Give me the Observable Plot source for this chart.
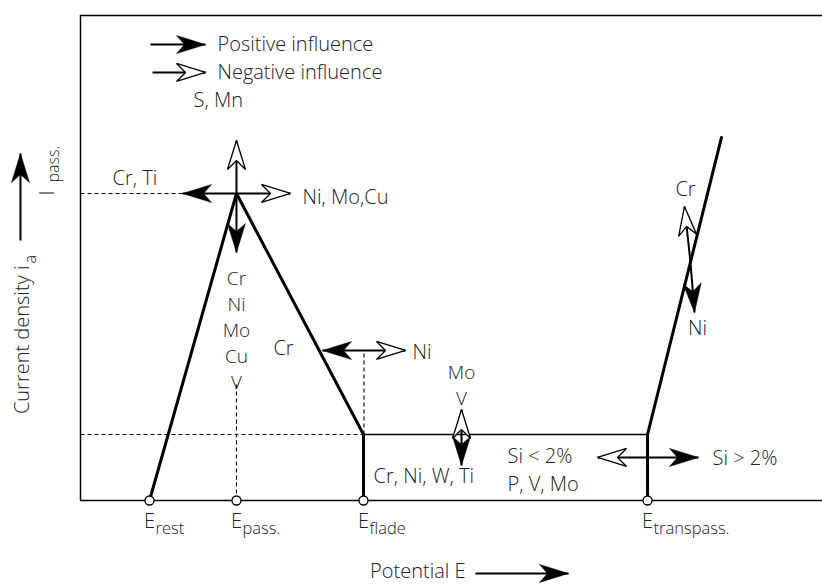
<!DOCTYPE html>
<html><head><meta charset="utf-8">
<script src="https://cdn.jsdelivr.net/npm/d3@7"></script>
<script src="https://cdn.jsdelivr.net/npm/@observablehq/plot@0.6"></script>
<style>body{margin:0;background:#fff;} #chart svg{display:block}</style>
</head><body><div id="chart"></div>
<script>
// ---- Data (relative units: potential 0–100 across the frame, current density 0–100 up the frame)
const potentialNames = ["rest", "pass.", "flade", "transpass."];
const potentialValues = [9.30, 21.02, 38.14, 76.42];

// polarisation curve: active branch + passive drop, then transpassive branch
const curveActiveX = [9.30, 21.02, 38.14, 38.14];
const curveActiveY = [0, 63.30, 13.61, 0];
const curveTransX = [76.42, 76.42, 86.39];
const curveTransY = [0, 13.61, 74.85];

// passive plateau (solid thin)
const plateauX = [38.14, 76.42];
const plateauY = [13.61, 13.61];

// dashed guide lines
const guideX1 = [0, 0, 21.02, 38.20];
const guideY1 = [63.30, 13.61, 0, 13.61];
const guideX2 = [13.75, 38.14, 21.02, 38.20];
const guideY2 = [63.30, 13.61, 24.12, 30.93];

// influence arrows (start -> tip), head: "filled" = positive, "open" = negative
const arrowX1 = [9.43, 9.70, 21.02, 21.02, 21.02, 21.02, 38.20, 38.20, 51.35, 51.35, 76.42, 76.42, 82.21, 82.21, -8.09, 53.23];
const arrowY1 = [94.0, 88.25, 63.30, 63.30, 63.30, 63.30, 30.93, 30.93, 13.61, 13.61, 8.87, 8.87, 49.07, 49.07, 53.61, -15.05];
const arrowX2 = [16.85, 16.85, 13.75, 28.30, 21.02, 21.02, 32.61, 43.80, 51.35, 51.35, 69.68, 83.29, 81.40, 82.75, -8.09, 65.77];
const arrowY2 = [94.0, 88.25, 63.30, 63.30, 74.23, 51.13, 30.93, 30.93, 18.76, 7.22, 8.87, 8.87, 60.62, 38.76, 71.55, -15.05];
const arrowHead = ["filled", "open", "filled", "open", "open", "filled", "filled", "open", "open", "filled", "open", "filled", "open", "filled", "filled", "filled"];

// single-line labels
const labelText = ["Positive influence", "Negative influence", "S, Mn", "Cr, Ti", "Ni, Mo,Cu",
  "Cr", "Ni", "Cr, Ni, W, Ti", "Si > 2%", "Cr", "Ni"];
const labelX = [18.46, 18.46, 15.23, 4.31, 29.92, 27.36, 44.74, 39.49, 85.18, 81.54, 83.15];
const labelY = [94.0, 88.25, 82.47, 66.29, 62.37, 31.34, 30.52, 4.95, 8.66, 64.12, 35.46];
const labelAnchor = ["start", "start", "start", "start", "start", "middle", "start", "start", "start", "middle", "middle"];

// stacked (multi-line) labels
const peakStack = ["Cr", "Ni", "Mo", "Cu", "V"];      // centred under the peak
const peakStackX = 21.02, peakStackY = 35.36;
const fladeStack = ["Mo", "V"];                       // above the plateau arrow
const fladeStackX = 51.35, fladeStackY = 24.02;
const siStack = ["Si < 2%", "P, V, Mo"];              // left of the Si arrow
const siStackX = 57.55, siStackY = 6.60;

const xTitle = "Potential E";
const yTitle = "Current density i";
const yTitleSub = "a";
const iPassLabel = "I";
const iPassSub = "pass.";

// ---- Build tables
const arrows = arrowX1.map((x1, i) => ({x1, y1: arrowY1[i], x2: arrowX2[i], y2: arrowY2[i], head: arrowHead[i]}));
const labels = labelText.map((text, i) => ({text, x: labelX[i], y: labelY[i], anchor: labelAnchor[i]}));
const ticks = potentialNames.map((name, i) => ({name, x: potentialValues[i]}));
const guides = guideX1.map((x1, i) => ({x1, y1: guideY1[i], x2: guideX2[i], y2: guideY2[i]}));
const active = curveActiveX.map((x, i) => ({x, y: curveActiveY[i]}));
const trans = curveTransX.map((x, i) => ({x, y: curveTransY[i]}));
const plateau = plateauX.map((x, i) => ({x, y: plateauY[i]}));

const NS = "http://www.w3.org/2000/svg";
function headMarker(open) {
  return (color, context) => {
    const doc = (context && context.document) || document;
    const m = doc.createElementNS(NS, "marker");
    m.setAttribute("viewBox", "-34 -12 37 24");
    m.setAttribute("markerWidth", "37");
    m.setAttribute("markerHeight", "24");
    m.setAttribute("markerUnits", "userSpaceOnUse");
    m.setAttribute("refX", "0");
    m.setAttribute("refY", "0");
    m.setAttribute("orient", "auto");
    m.setAttribute("overflow", "visible");
    const p = doc.createElementNS(NS, "path");
    if (open) {
      p.setAttribute("d", "M0,0 L-29,-9 L-20,0 L-29,9 Z");
      p.setAttribute("fill", "white");
      p.setAttribute("stroke", color);
      p.setAttribute("stroke-width", "1.3");
    } else {
      p.setAttribute("d", "M0,0 L-29,-9 L-21,0 L-29,9 Z");
      p.setAttribute("fill", color);
      p.setAttribute("stroke", color);
      p.setAttribute("stroke-width", "0.5");
    }
    p.setAttribute("stroke-linejoin", "miter");
    p.setAttribute("stroke-dasharray", "none");
    m.appendChild(p);
    return m;
  };
}

const FONT = "'Open Sans', 'DejaVu Sans', sans-serif";
const TXT = "#222";
const W = 300;
const FS = 20;

const chart = Plot.plot({
  width: 822,
  height: 584,
  marginLeft: 80,
  marginRight: 0,
  marginTop: 15,
  marginBottom: 84,
  x: {domain: [0, 100], axis: null},
  y: {domain: [0, 100], axis: null},
  style: {fontFamily: FONT, background: "white", overflow: "visible"},
  marks: [
    // frame (left, top, bottom)
    Plot.ruleX([0], {y1: 0, y2: 100, stroke: "black", strokeWidth: 1.5}),
    Plot.ruleY([0, 100], {x1: 0, x2: 100, stroke: "black", strokeWidth: 1.5}),
    // dashed guides
    Plot.link(guides, {x1: "x1", y1: "y1", x2: "x2", y2: "y2", stroke: "black", strokeWidth: 1.1, strokeDasharray: "4,3"}),
    // plateau
    Plot.line(plateau, {x: "x", y: "y", stroke: "black", strokeWidth: 1.5}),
    // curve
    Plot.line(active, {x: "x", y: "y", stroke: "black", strokeWidth: 3, strokeLinejoin: "miter"}),
    Plot.line(trans, {x: "x", y: "y", stroke: "black", strokeWidth: 3, strokeLinejoin: "miter"}),
    // arrows
    Plot.link(arrows.filter(d => d.head === "filled"), {x1: "x1", y1: "y1", x2: "x2", y2: "y2", stroke: "black", strokeWidth: 2, markerEnd: headMarker(false)}),
    Plot.link(arrows.filter(d => d.head === "open"), {x1: "x1", y1: "y1", x2: "x2", y2: "y2", stroke: "black", strokeWidth: 2, markerEnd: headMarker(true)}),
    // potential points
    Plot.dot(ticks, {x: "x", y: 0, r: 4.5, fill: "white", stroke: "black", strokeWidth: 1.3}),
    // potential labels E_sub
    Plot.text(ticks, {x: "x", y: 0, text: d => "E", textAnchor: "start", dx: -5.5, dy: 21.5, fontSize: FS, fontWeight: W, fill: TXT}),
    Plot.text(ticks, {x: "x", y: 0, text: "name", textAnchor: "start", dx: 6, dy: 28, fontSize: 16.5, fontWeight: W, fill: TXT}),
    // single-line labels
    Plot.text(labels.filter(d => d.anchor === "start"), {x: "x", y: "y", text: "text", textAnchor: "start", fontSize: FS, fontWeight: W, fill: TXT}),
    Plot.text(labels.filter(d => d.anchor === "middle"), {x: "x", y: "y", text: "text", textAnchor: "middle", fontSize: FS, fontWeight: W, fill: TXT}),
    // stacked labels
    Plot.text([peakStack.join("\n")], {x: peakStackX, y: peakStackY, text: d => d, textAnchor: "middle", lineHeight: 1.37, fontSize: 19, fontWeight: W, fill: TXT}),
    Plot.text([fladeStack.join("\n")], {x: fladeStackX, y: fladeStackY, text: d => d, textAnchor: "middle", lineHeight: 1.37, fontSize: 19, fontWeight: W, fill: TXT}),
    Plot.text([siStack.join("\n")], {x: siStackX, y: siStackY, text: d => d, textAnchor: "start", lineHeight: 1.4, fontSize: FS, fontWeight: W, fill: TXT}),
    // axis titles
    Plot.text([xTitle], {x: 51.89, y: -14.64, text: d => d, textAnchor: "end", fontSize: FS, fontWeight: W, fill: TXT}),
    Plot.text([yTitle], {x: -7.82, y: 48.45, text: d => d, textAnchor: "end", rotate: -90, fontSize: FS, fontWeight: W, fill: TXT}),
    Plot.text([yTitleSub], {x: -6.74, y: 48.87, text: d => d, textAnchor: "start", rotate: -90, fontSize: 16, fontWeight: W, fill: TXT}),
    Plot.text([iPassLabel], {x: -4.38, y: 62.89, text: d => d, textAnchor: "start", rotate: -90, fontSize: FS, fontWeight: W, fill: TXT}),
    Plot.text([iPassSub], {x: -3.64, y: 65.57, text: d => d, textAnchor: "start", rotate: -90, fontSize: 16, fontWeight: W, fill: TXT})
  ]
});
document.getElementById("chart").appendChild(chart);
</script>
</body></html>
